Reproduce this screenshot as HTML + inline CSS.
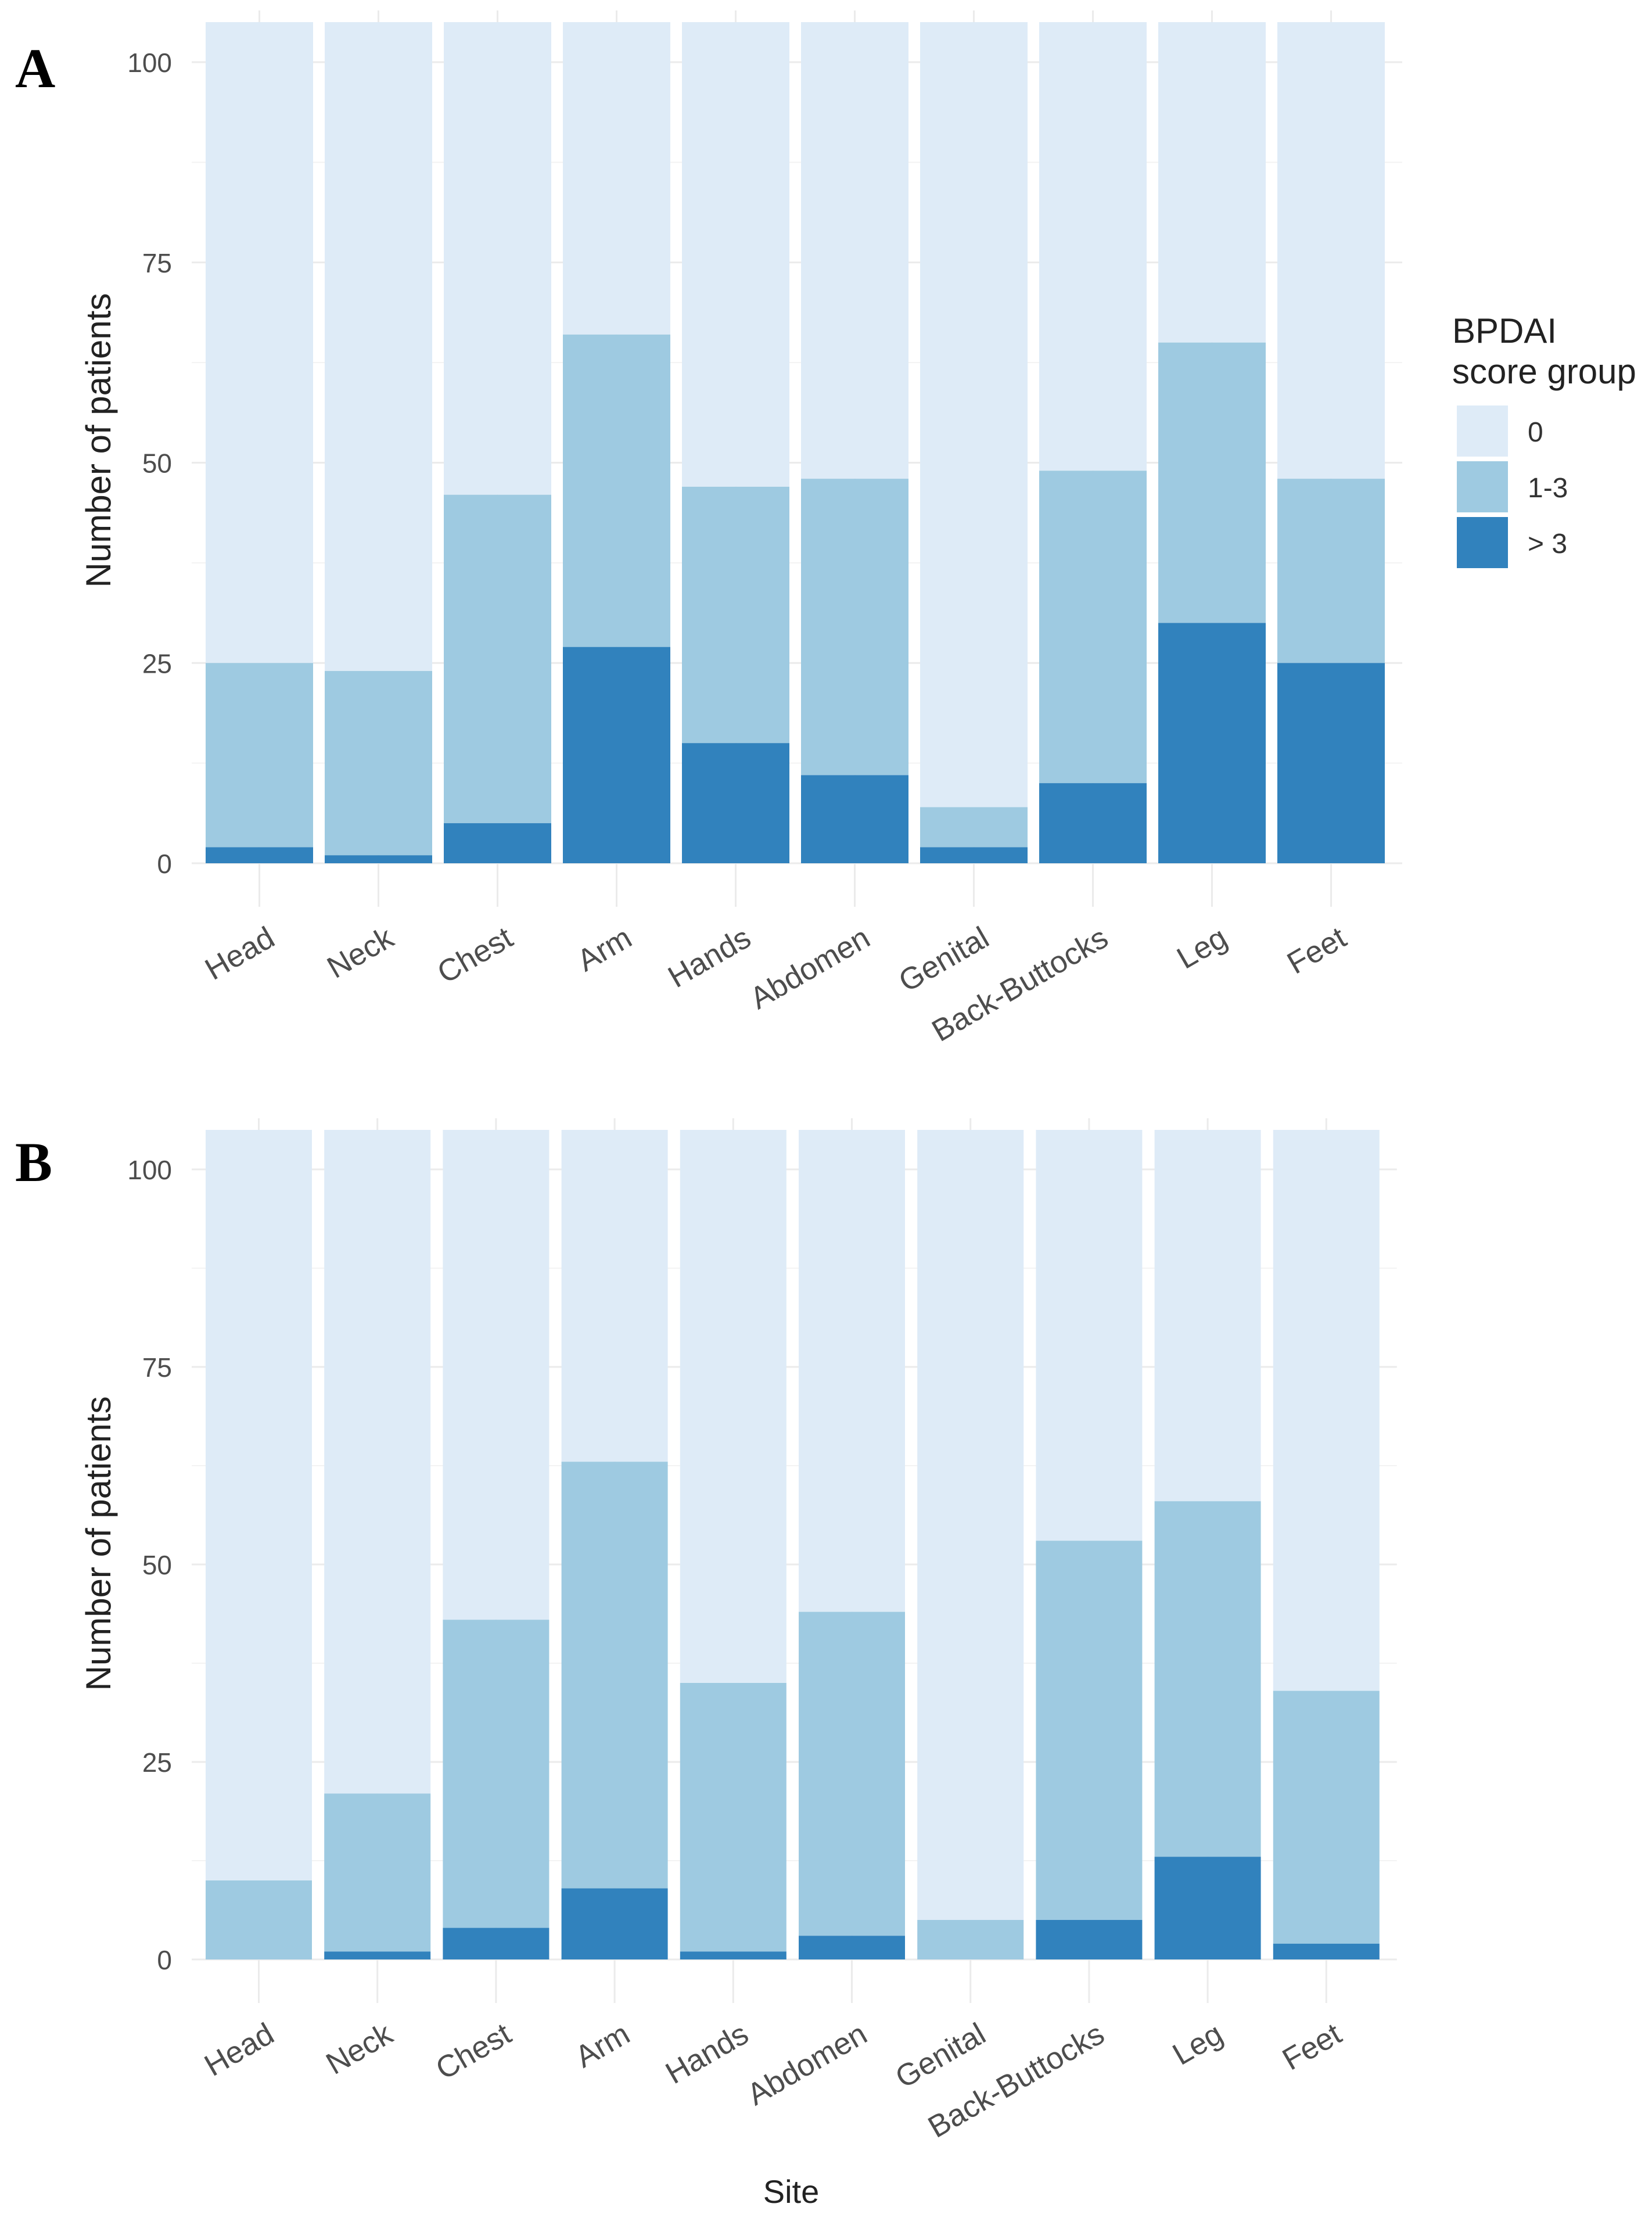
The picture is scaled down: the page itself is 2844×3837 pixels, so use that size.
<!DOCTYPE html>
<html><head><meta charset="utf-8"><style>
html,body{margin:0;padding:0;background:#fff;}
svg{display:block;font-family:"Liberation Sans",sans-serif;}
</style></head><body>
<svg id="chart" width="2844" height="3837" viewBox="0 0 2844 3837" xmlns="http://www.w3.org/2000/svg">
<text x="26" y="150" font-family="Liberation Serif" font-weight="bold" font-size="96" fill="#000">A</text>
<text x="26" y="2033" font-family="Liberation Serif" font-weight="bold" font-size="96" fill="#000">B</text>
<text x="1362" y="3792" text-anchor="middle" font-size="56" fill="#222">Site</text>
<g>
<text x="2500" y="590" font-size="60" fill="#222">BPDAI</text>
<text x="2500" y="660" font-size="60" fill="#222">score group</text>
<rect x="2508" y="698" width="88" height="88" fill="#deebf7"/>
<rect x="2508" y="794" width="88" height="88" fill="#9ecae1"/>
<rect x="2508" y="890" width="88" height="88" fill="#3182bd"/>
<text x="2630" y="760" font-size="48" fill="#333">0</text>
<text x="2630" y="856" font-size="48" fill="#333">1-3</text>
<text x="2630" y="952" font-size="48" fill="#333">&gt; 3</text>
</g>
</svg>
<script>
const sites = ["Head","Neck","Chest","Arm","Hands","Abdomen","Genital","Back-Buttocks","Leg","Feet"];
const totalA = 105;
const highA = [2,1,5,27,15,11,2,10,30,25];
const cumMidA = [25,24,46,66,47,48,7,49,65,48];
const totalB = 105;
const highB = [0,1,4,9,1,3,0,5,13,2];
const cumMidB = [10,21,43,63,35,44,5,53,58,34];
const yTicks = [0,25,50,75,100];

const NS = "http://www.w3.org/2000/svg";
const svg = document.getElementById('chart');
function mk(tag, attrs, parent){
  const e = document.createElementNS(NS, tag);
  for (const k in attrs) e.setAttribute(k, attrs[k]);
  (parent||svg).appendChild(e);
  return e;
}
function panel(name, y0, y100, left, pitch, bw, total, high, cumMid, titleY){
  const g = mk('g', {});
  
  
  const unit = (y0 - y100) / 100;
  const yS = v => y0 - v * unit;
  const xS = i => left + i * pitch;
  const right = xS(sites.length - 1) + bw + 30;
  for (let v = 0; v <= 100; v += 12.5) {
    const l = mk('line', {x1: 330, x2: right, y1: yS(v), y2: yS(v), stroke: v % 25 === 0 ? '#ebebeb' : '#f3f3f3', 'stroke-width': v % 25 === 0 ? 3 : 2}, g);
    
    
  }
  sites.forEach((s, i) => {
    const cx = xS(i) + bw / 2;
    const vl = mk('line', {x1: cx, x2: cx, y1: yS(total) - 20, y2: y0 + 75, stroke: '#ebebeb', 'stroke-width': 3}, g);
    
    
  });
  yTicks.forEach(v => {
    const t = mk('text', {x: 296, y: yS(v) + 17, 'text-anchor': 'end', 'font-size': 46, fill: '#4d4d4d'}, g);
    t.textContent = v;
    
    
  });
  sites.forEach((s, i) => {
    const x = xS(i);
    const r0 = mk('rect', {x: x, y: yS(total), width: bw, height: yS(cumMid[i]) - yS(total), fill: '#deebf7'}, g);
    
    
    const r1 = mk('rect', {x: x, y: yS(cumMid[i]), width: bw, height: yS(high[i]) - yS(cumMid[i]), fill: '#9ecae1'}, g);
    
    
    const r2 = mk('rect', {x: x, y: yS(high[i]), width: bw, height: y0 - yS(high[i]), fill: '#3182bd'}, g);
    
    
    const ax = x + bw / 2 + 30, ay = y0 + 139;
    const t = mk('text', {x: ax, y: ay, 'text-anchor': 'end', 'font-size': 53, fill: '#4d4d4d', transform: 'rotate(-30 ' + ax + ' ' + ay + ')'}, g);
    t.textContent = s;
    
    
  });
  const yt = mk('text', {x: 190, y: titleY, 'text-anchor': 'middle', 'font-size': 60, fill: '#222', transform: 'rotate(-90 190 ' + titleY + ')'}, g);
  yt.textContent = 'Number of patients';
  
  
}
panel('panel-a', 1486, 107, 354, 205, 185, totalA, highA, cumMidA, 758);
panel('panel-b', 3373, 2013, 354, 204.2, 183, totalB, highB, cumMidB, 2657);
</script>
</body></html>
